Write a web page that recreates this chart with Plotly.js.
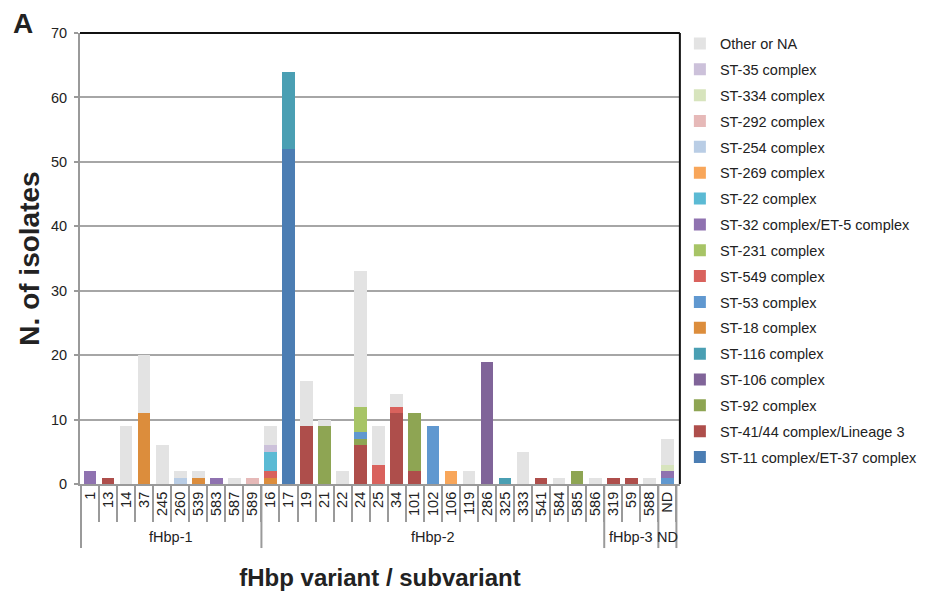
<!DOCTYPE html>
<html>
<head>
<meta charset="utf-8">
<script src="https://cdn.plot.ly/plotly-3.0.1.min.js"></script>
<style>
  html, body { margin: 0; padding: 0; background: #fff; }
  #chart { width: 925px; height: 592px; }
</style>
</head>
<body>
<div id="chart"></div>
<script>
// fHbp subvariants (x categories), in display order
const categories = ['1','13','14','37','245','260','539','583','587','589',
  '16','17','19','21','22','24','25','34','101','102','106','119','286','325','333','541','584','585','586',
  '319','59','588','ND'];

// variant groups and how many subvariants each spans
const groupNames = ['fHbp-1', 'fHbp-2', 'fHbp-3', 'ND'];
const groupSizes = [10, 19, 3, 1];

// isolate counts per clonal complex (stacked bottom to top)
const st11     = [0,0,0,0,0,0,0,0,0,0, 0,52,0,0,0,0,0,0,0,0,0,0,0,0,0,0,0,0,0, 0,0,0,0];
const st41_44  = [0,1,0,0,0,0,0,0,0,0, 0,0,9,0,0,6,0,11,2,0,0,0,0,0,0,1,0,0,0, 1,1,0,0];
const st92     = [0,0,0,0,0,0,0,0,0,0, 0,0,0,9,0,1,0,0,9,0,0,0,0,0,0,0,0,2,0, 0,0,0,0];
const st106    = [0,0,0,0,0,0,0,0,0,0, 0,0,0,0,0,0,0,0,0,0,0,0,19,0,0,0,0,0,0, 0,0,0,0];
const st116    = [0,0,0,0,0,0,0,0,0,0, 0,12,0,0,0,0,0,0,0,0,0,0,0,1,0,0,0,0,0, 0,0,0,0];
const st18     = [0,0,0,11,0,0,1,0,0,0, 1,0,0,0,0,0,0,0,0,0,0,0,0,0,0,0,0,0,0, 0,0,0,0];
const st53     = [0,0,0,0,0,0,0,0,0,0, 0,0,0,0,0,1,0,0,0,9,0,0,0,0,0,0,0,0,0, 0,0,0,1];
const st549    = [0,0,0,0,0,0,0,0,0,0, 1,0,0,0,0,0,3,1,0,0,0,0,0,0,0,0,0,0,0, 0,0,0,0];
const st231    = [0,0,0,0,0,0,0,0,0,0, 0,0,0,0,0,4,0,0,0,0,0,0,0,0,0,0,0,0,0, 0,0,0,0];
const st32     = [2,0,0,0,0,0,0,1,0,0, 0,0,0,0,0,0,0,0,0,0,0,0,0,0,0,0,0,0,0, 0,0,0,1];
const st22     = [0,0,0,0,0,0,0,0,0,0, 3,0,0,0,0,0,0,0,0,0,0,0,0,0,0,0,0,0,0, 0,0,0,0];
const st269    = [0,0,0,0,0,0,0,0,0,0, 0,0,0,0,0,0,0,0,0,0,2,0,0,0,0,0,0,0,0, 0,0,0,0];
const st254    = [0,0,0,0,0,1,0,0,0,0, 0,0,0,0,0,0,0,0,0,0,0,0,0,0,0,0,0,0,0, 0,0,0,0];
const st292    = [0,0,0,0,0,0,0,0,0,1, 0,0,0,0,0,0,0,0,0,0,0,0,0,0,0,0,0,0,0, 0,0,0,0];
const st334    = [0,0,0,0,0,0,0,0,0,0, 0,0,0,0,0,0,0,0,0,0,0,0,0,0,0,0,0,0,0, 0,0,0,1];
const st35     = [0,0,0,0,0,0,0,0,0,0, 1,0,0,0,0,0,0,0,0,0,0,0,0,0,0,0,0,0,0, 0,0,0,0];
const otherNA  = [0,0,9,9,6,1,1,0,1,0, 3,0,7,1,2,21,6,2,0,0,0,2,0,0,5,0,1,0,1, 0,0,1,4];

const series = [
  { name: 'ST-11 complex/ET-37 complex', values: st11,    color: '#4b7db3' },
  { name: 'ST-41/44 complex/Lineage 3',  values: st41_44, color: '#ae4e4b' },
  { name: 'ST-92 complex',               values: st92,    color: '#8ea553' },
  { name: 'ST-106 complex',              values: st106,   color: '#806499' },
  { name: 'ST-116 complex',              values: st116,   color: '#4a9fb3' },
  { name: 'ST-18 complex',               values: st18,    color: '#dc8d3c' },
  { name: 'ST-53 complex',               values: st53,    color: '#6098d0' },
  { name: 'ST-549 complex',              values: st549,   color: '#d9625d' },
  { name: 'ST-231 complex',              values: st231,   color: '#a7c466' },
  { name: 'ST-32 complex/ET-5 complex',  values: st32,    color: '#8f72b0' },
  { name: 'ST-22 complex',               values: st22,    color: '#5bbad4' },
  { name: 'ST-269 complex',              values: st269,   color: '#f8a65a' },
  { name: 'ST-254 complex',              values: st254,   color: '#b9cde5' },
  { name: 'ST-292 complex',              values: st292,   color: '#e6b9b8' },
  { name: 'ST-334 complex',              values: st334,   color: '#d7e4bd' },
  { name: 'ST-35 complex',               values: st35,    color: '#ccc1da' },
  { name: 'Other or NA',                 values: otherNA, color: '#e3e3e3' }
];

// legend lists the top of the stack first
const traces = series.map((s, i) => ({
  type: 'bar',
  name: s.name,
  x: categories,
  y: s.values,
  legendgroup: 'g' + i,
  legendrank: series.length - i,
  marker: { color: s.color, line: { width: 0 } },
  hoverinfo: 'x+y+name'
}));

const FONT = 'Liberation Sans, Arial, Helvetica, sans-serif';
const sepColor = '#9a9a9a';

// group boundaries (category index) and group label centres
const shapes = [];
const annotations = [];
let start = 0;
const boundaries = [-0.5];
groupNames.forEach((g, i) => {
  const end = start + groupSizes[i];
  boundaries.push(end - 0.5);
  annotations.push({
    xref: 'x', yref: 'paper',
    x: (start + end - 1) / 2, y: -0.117,
    text: g, showarrow: false, xanchor: 'center', yanchor: 'middle',
    font: { family: FONT, size: 14.5, color: '#222' }
  });
  start = end;
});
boundaries.forEach(b => {
  shapes.push({
    type: 'line', xref: 'x', yref: 'paper',
    x0: b, x1: b, y0: 0, y1: -0.142,
    line: { color: sepColor, width: 2 }
  });
});
// black frame on top and right
shapes.push({ type: 'line', xref: 'paper', yref: 'paper', x0: 0, x1: 1, y0: 1, y1: 1,
  line: { color: '#111', width: 2 } });
shapes.push({ type: 'line', xref: 'paper', yref: 'paper', x0: 1, x1: 1, y0: 0, y1: 1,
  line: { color: '#111', width: 2 } });

annotations.push({
  xref: 'paper', yref: 'paper', x: -0.0955, y: 1.022,
  xanchor: 'center', yanchor: 'middle',
  text: 'A', showarrow: false,
  font: { family: FONT, size: 28, color: '#222', weight: 'bold' }
});

const layout = {
  width: 925, height: 592,
  margin: { l: 80, r: 238, t: 33, b: 108 },
  paper_bgcolor: '#fff', plot_bgcolor: '#fff',
  barmode: 'stack',
  bargap: 0.3,
  showlegend: true,
  font: { family: FONT, size: 14.5, color: '#222' },
  legend: {
    xref: 'container', yref: 'container',
    x: 0.735, y: 0.9535, xanchor: 'left', yanchor: 'top',
    traceorder: 'grouped', tracegroupgap: 4,
    itemwidth: 30,
    maxheight: 590,
    font: { family: FONT, size: 14.5, color: '#222' },
    bgcolor: 'rgba(0,0,0,0)'
  },
  xaxis: {
    type: 'category',
    categoryorder: 'array', categoryarray: categories,
    tickangle: -90,
    ticks: 'outside', tickson: 'boundaries',
    ticklen: 36, tickwidth: 2, tickcolor: sepColor,
    showline: true, linecolor: sepColor, linewidth: 2,
    showgrid: false, zeroline: false,
    tickfont: { family: FONT, size: 14.5, color: '#222' },
    title: {
      text: 'fHbp variant / subvariant',
      font: { family: FONT, size: 24, color: '#222', weight: 'bold' },
      standoff: 54
    },
    automargin: false
  },
  yaxis: {
    range: [0, 70],
    tickvals: [0, 10, 20, 30, 40, 50, 60, 70],
    ticks: 'outside', ticklen: 4, tickwidth: 2, tickcolor: sepColor,
    ticklabelstandoff: 4,
    showline: true, linecolor: sepColor, linewidth: 2,
    showgrid: true, gridcolor: '#a6a6a6', gridwidth: 2,
    zeroline: false,
    tickfont: { family: FONT, size: 14.5, color: '#222' },
    title: {
      text: 'N. of isolates',
      font: { family: FONT, size: 28, color: '#222', weight: 'bold' },
      standoff: 3
    },
    automargin: false
  },
  shapes: shapes,
  annotations: annotations
};

Plotly.newPlot('chart', traces, layout, { displayModeBar: false, staticPlot: true });
</script>
</body>
</html>
